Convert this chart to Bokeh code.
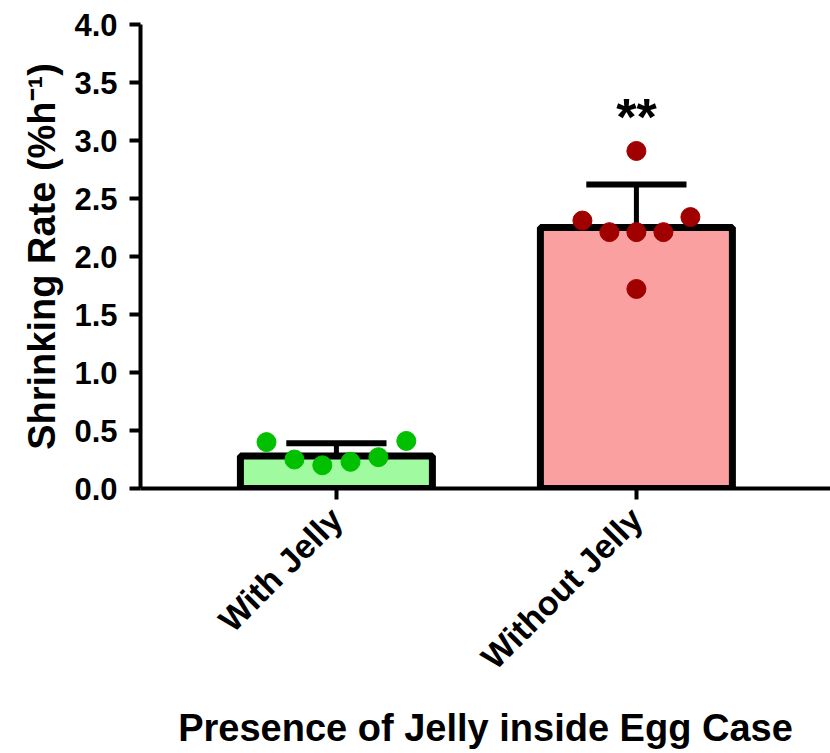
import math
from bokeh.plotting import figure
from bokeh.models import Range1d, FixedTicker, ColumnDataSource, CustomJSTickFormatter
from bokeh.core.properties import value
from bokeh.embed import file_html
from bokeh.resources import INLINE

categories = ["With Jelly", "Without Jelly"]
cat_pos = [0, 1]
means = [0.28, 2.25]
upper = [0.39, 2.62]

with_vals = [0.40, 0.25, 0.20, 0.23, 0.27, 0.41]
with_offsets = [-0.233, -0.14, -0.047, 0.047, 0.14, 0.233]
without_vals = [2.31, 2.21, 2.21, 2.21, 2.34, 2.91, 1.72]
without_offsets = [-0.18, -0.09, 0.0, 0.09, 0.18, 0.0, 0.0]

sig_label = "**"
sig_y = 3.20

bar_fills = ["#a0faa0", "#faa0a0"]
FONT = "Liberation Sans"

p = figure(width=830, height=753, output_backend="svg", toolbar_location=None,
           x_range=Range1d(-0.653, 1.647), y_range=Range1d(0, 4.0),
           min_border_left=140, min_border_right=0, min_border_top=24,
           min_border_bottom=265)
p.outline_line_color = None
p.grid.visible = False

src = ColumnDataSource(dict(x=cat_pos, top=means, up=upper, fill=bar_fills))
p.vbar(x="x", top="top", bottom=0, width=0.64, source=src, fill_color="fill",
       line_color="black", line_width=7)
p.segment(x0="x", y0="top", x1="x", y1="up", source=src, line_color="black", line_width=5)
p.segment(x0=[c - 0.167 for c in cat_pos], y0=upper, x1=[c + 0.167 for c in cat_pos],
          y1=upper, line_color="black", line_width=6)

p.scatter([cat_pos[0] + o for o in with_offsets], with_vals, size=19,
          fill_color="#00c000", line_color="#00c000")
p.scatter([cat_pos[1] + o for o in without_offsets], without_vals, size=19,
          fill_color="#a00000", line_color="#a00000")

p.text(x=[cat_pos[1]], y=[sig_y], text=[sig_label], text_align="center",
       text_baseline="alphabetic", text_font=value(FONT), text_font_style="bold",
       text_font_size="52px", text_color="black")

yax = p.yaxis[0]
yax.ticker = FixedTicker(ticks=[0, 0.5, 1.0, 1.5, 2.0, 2.5, 3.0, 3.5, 4.0])
yax.formatter = CustomJSTickFormatter(code="return tick.toFixed(1);")
yax.axis_label = "Shrinking Rate (%h\u207b\u00b9)"

xax = p.xaxis[0]
xax.ticker = FixedTicker(ticks=cat_pos)
xax.major_label_overrides = {c: n for c, n in zip(cat_pos, categories)}
xax.major_label_orientation = math.pi / 4
xax.axis_label = "Presence of Jelly inside Egg Case"

for ax in (xax, yax):
    ax.axis_line_width = 4
    ax.axis_line_color = "black"
    ax.major_tick_line_width = 4
    ax.major_tick_line_color = "black"
    ax.major_tick_out = 11
    ax.major_tick_in = 0
    ax.minor_tick_line_color = None
    ax.major_label_text_font = FONT
    ax.major_label_text_font_style = "bold"
    ax.major_label_text_color = "black"
    ax.axis_label_text_font = FONT
    ax.axis_label_text_font_style = "bold"
    ax.axis_label_text_color = "black"

yax.major_label_text_font_size = "31px"
yax.axis_label_text_font_size = "38px"
yax.major_label_standoff = 12
yax.axis_label_standoff = 8
xax.major_label_text_font_size = "34px"
xax.axis_label_text_font_size = "38px"
xax.major_label_standoff = 14
xax.axis_label_standoff = 14

open("out.html", "w").write(file_html(p, INLINE))
